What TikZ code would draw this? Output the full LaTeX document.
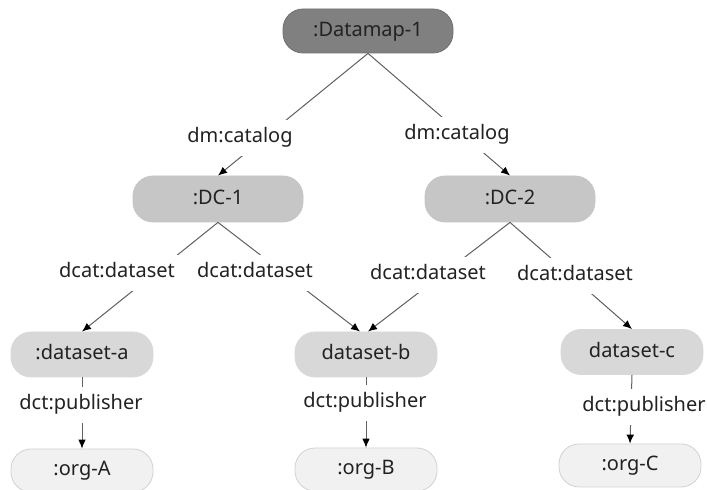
\documentclass[tikz,border=0pt]{standalone}
\usepackage{fontspec}
\setmainfont{Noto Sans}
\usepackage{tikz}
\usetikzlibrary{arrows.meta}
\definecolor{Ink}{HTML}{222222}
\definecolor{Edge}{HTML}{606060}
\definecolor{GrayDark}{HTML}{808080}
\definecolor{GrayDarkLine}{HTML}{707070}
\definecolor{GrayMid}{HTML}{C6C6C6}
\definecolor{GraySoft}{HTML}{D8D8D8}
\definecolor{GrayPale}{HTML}{F1F1F1}
\definecolor{GrayPaleLine}{HTML}{D2D2D2}
\tikzset{
  pill/.style={rounded corners=10pt,minimum width=71pt,minimum height=22pt,align=center,inner sep=0pt,
    text height=7.5pt,text depth=2.2pt,text=Ink,font=\fontsize{10}{12}\selectfont},
  pilldark/.style={pill,minimum width=85pt,draw=GrayDarkLine,fill=GrayDark},
  pillmid/.style={pill,minimum width=85pt,minimum height=23pt,draw=GrayMid,fill=GrayMid},
  pillsoft/.style={pill,minimum height=22.5pt,draw=GraySoft,fill=GraySoft},
  pillpale/.style={pill,minimum height=21.5pt,draw=GrayPaleLine,fill=GrayPale},
  edgelabel/.style={fill=white,inner xsep=1.5pt,inner ysep=4pt,text height=7.5pt,text depth=2.5pt,
    text=Ink,font=\fontsize{10}{12}\selectfont},
  arrow/.style={-{Latex[length=4.5pt,width=3.8pt,color=black]},draw=Edge,line width=0.5pt}
}
\begin{document}
\begin{tikzpicture}[x=0.5pt,y=-0.5pt]
\path[use as bounding box,fill=white] (0,0) rectangle (707,490);
% catalogue tree
\node[pilldark] (dm) at (368,31) {:Datamap-1};
\node[pillmid] (dc1) at (218,199) {:DC-1};
\node[pillmid] (dc2) at (510,199) {:DC-2};
\node[pillsoft] (dsa) at (82,354.5) {:dataset-a};
\node[pillsoft] (dsb) at (366,354.5) {dataset-b};
\node[pillsoft] (dsc) at (632,352) {dataset-c};
\node[pillpale] (orga) at (82,470.5) {:org-A};
\node[pillpale] (orgb) at (366,469.5) {:org-B};
\node[pillpale] (orgc) at (630,465.5) {:org-C};
% edges first, labels on top of them
\draw[arrow] (dm.south) -- (dc1.north);
\draw[arrow] (dm.south) -- (dc2.north);
\draw[arrow] (dc1.south) -- (dsa.north);
\draw[arrow] (dc1.south) -- ([xshift=-3pt]dsb.north);
\draw[arrow] (dc2.south) -- ([xshift=1pt]dsb.north);
\draw[arrow] (dc2.south) -- (dsc.north);
\draw[arrow] (dsa.south) -- (orga.north);
\draw[arrow] (dsb.south) -- (orgb.north);
\draw[arrow] (dsc.south) -- (orgc.north);
\node[edgelabel] (cat1) at (240,138) {dm:catalog};
\node[edgelabel] (cat2) at (457,135) {dm:catalog};
\node[edgelabel] (set1) at (117,273) {dcat:dataset};
\node[edgelabel] (set2) at (255,273) {dcat:dataset};
\node[edgelabel] (set3) at (428,275) {dcat:dataset};
\node[edgelabel] (set4) at (575,276) {dcat:dataset};
\node[edgelabel] (puba) at (81,405) {dct:publisher};
\node[edgelabel] (pubb) at (365,403) {dct:publisher};
\node[edgelabel] (pubc) at (644,407) {dct:publisher};
\end{tikzpicture}
\end{document}
